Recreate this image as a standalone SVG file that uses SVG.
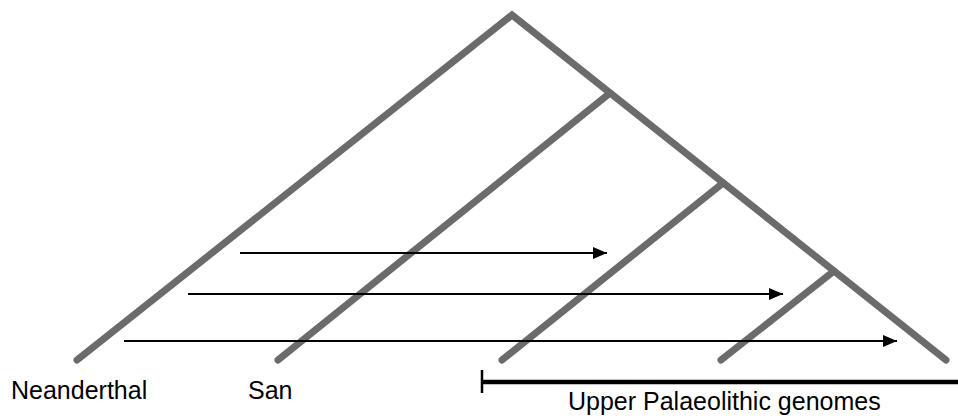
<svg xmlns="http://www.w3.org/2000/svg" width="958" height="418" viewBox="0 0 958 418">
<style>
.br{fill:none;stroke:#6b6b6b;stroke-width:7;stroke-linecap:round;stroke-linejoin:miter}
.ar{fill:none;stroke:#000;stroke-width:2}
.lb{font-family:"Liberation Sans",Arial,sans-serif;font-size:25px;fill:#000}
</style>
<defs>
<marker id="ah" markerUnits="userSpaceOnUse" markerWidth="16" markerHeight="12" refX="14" refY="6" orient="auto">
<path d="M0,0 L14,6 L0,12 Z" fill="#000"/>
</marker>
</defs>
<g id="tree">
<path class="br" d="M77,360 L512,15 L946,360"/>
<path class="br" d="M278,360 L610,93"/>
<path class="br" d="M502,360 L723,183"/>
<path class="br" d="M721,360 L834,271"/>
</g>
<g id="connectors">
<line class="ar" x1="240" y1="253" x2="607" y2="253" marker-end="url(#ah)"/>
<line class="ar" x1="188" y1="294" x2="783" y2="294" marker-end="url(#ah)"/>
<line class="ar" x1="124" y1="341" x2="897" y2="341" marker-end="url(#ah)"/>
</g>
<g id="bracket">
<line x1="481" y1="382" x2="958" y2="382" stroke="#000" stroke-width="4.5"/>
<line x1="482" y1="370" x2="482" y2="393" stroke="#000" stroke-width="2.5"/>
</g>
<g id="labels">
<text class="lb" x="11" y="399">Neanderthal</text>
<text class="lb" x="248" y="399">San</text>
<text class="lb" x="568" y="410">Upper Palaeolithic genomes</text>
</g>
</svg>
